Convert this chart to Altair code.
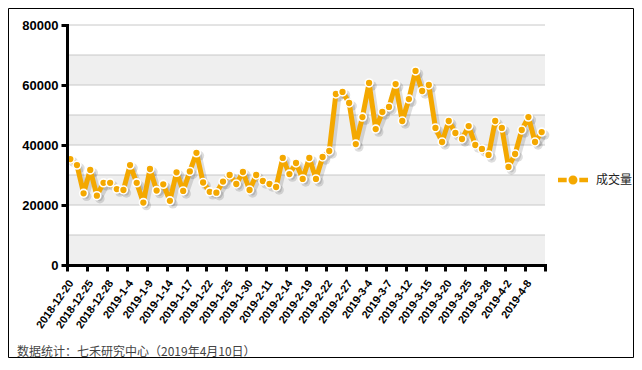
import altair as alt
import pandas as pd

# ---------------- data ----------------
dates = [
    "2018-12-20", "2018-12-21", "2018-12-24", "2018-12-25", "2018-12-26", "2018-12-27", "2018-12-28",
    "2019-1-2", "2019-1-3", "2019-1-4", "2019-1-7", "2019-1-8", "2019-1-9", "2019-1-10", "2019-1-11",
    "2019-1-14", "2019-1-15", "2019-1-16", "2019-1-17", "2019-1-18", "2019-1-21", "2019-1-22",
    "2019-1-23", "2019-1-24", "2019-1-25", "2019-1-28", "2019-1-29", "2019-1-30", "2019-1-31",
    "2019-2-1", "2019-2-11", "2019-2-12", "2019-2-13", "2019-2-14", "2019-2-15", "2019-2-18",
    "2019-2-19", "2019-2-20", "2019-2-21", "2019-2-22", "2019-2-25", "2019-2-26", "2019-2-27",
    "2019-2-28", "2019-3-1", "2019-3-4", "2019-3-5", "2019-3-6", "2019-3-7", "2019-3-8",
    "2019-3-11", "2019-3-12", "2019-3-13", "2019-3-14", "2019-3-15", "2019-3-18", "2019-3-19",
    "2019-3-20", "2019-3-21", "2019-3-22", "2019-3-25", "2019-3-26", "2019-3-27", "2019-3-28",
    "2019-3-29", "2019-4-1", "2019-4-2", "2019-4-3", "2019-4-4", "2019-4-8", "2019-4-9", "2019-4-10",
]
values = [
    35300, 33300, 23900, 31700, 23100, 27400, 27400, 25300, 25000, 33300,
    27400, 20800, 32000, 24800, 26900, 21400, 30900, 24700, 31200, 37400,
    27500, 24400, 24100, 27800, 30000, 27000, 31000, 25000, 30000, 28000,
    27000, 26000, 35700, 30300, 34000, 28700, 35700, 28700, 36000, 38000,
    57000, 57700, 54000, 40300, 49300, 60700, 45300, 51000, 52700, 60300,
    48000, 55300, 64700, 58000, 60000, 45700, 41000, 48000, 44000, 42000,
    46300, 40000, 38700, 36700, 48000, 45700, 32700, 37000, 45000, 49300,
    41000, 44300,
]
tick_labels = [
    "2018-12-20", "2018-12-25", "2018-12-28", "2019-1-4", "2019-1-9", "2019-1-14",
    "2019-1-17", "2019-1-22", "2019-1-25", "2019-1-30", "2019-2-11", "2019-2-14",
    "2019-2-19", "2019-2-22", "2019-2-27", "2019-3-4", "2019-3-7", "2019-3-12",
    "2019-3-15", "2019-3-20", "2019-3-25", "2019-3-28", "2019-4-2", "2019-4-8",
]
series_name = "成交量"
y_ticks = [0, 20000, 40000, 60000, 80000]
grid_values = [10000, 20000, 30000, 40000, 50000, 60000, 70000, 80000]
band_lo = [0, 20000, 40000, 60000]
band_hi = [10000, 30000, 50000, 70000]
footer_text = ["数据统计：七禾研究中心（2019年4月10日）"]

# ---------------- layout / style ----------------
W, H = 478, 240
PAD = {"left": 59, "top": 17, "right": 89, "bottom": 93}
ORANGE = "#F4A800"
N = len(values)
XDOM = [-0.5, N - 0.5]
YDOM = [0, 80000]

df = pd.DataFrame({"i": list(range(N)), "date": dates, "value": values, "series": series_name})
bands_df = pd.DataFrame({"lo": band_lo, "hi": band_hi})
grid_df = pd.DataFrame({"g": grid_values})
footer_df = pd.DataFrame({"t": footer_text})
one_df = pd.DataFrame({"a": [0]})

x_tick_values = [-0.5 + 3 * k for k in range(len(tick_labels) + 1)]
label_expr = "[" + ",".join("'%s'" % s for s in tick_labels) + "][round((datum.value + 0.5) / 3)] || ''"

xs = alt.Scale(domain=XDOM, nice=False, zero=False)
ys = alt.Scale(domain=YDOM, nice=False, zero=False)

x_axis = alt.Axis(
    values=x_tick_values, labelExpr=label_expr, title=None, grid=False,
    domainColor="black", domainWidth=3, domainCap="square",
    tickColor="black", tickWidth=3, tickSize=6,
    labelAngle=-55, labelAlign="right", labelBaseline="middle",
    labelFont="Liberation Sans", labelFontWeight="bold", labelFontSize=11,
    labelColor="black", labelPadding=10, labelOffset=4,
    labelOverlap=False, labelFlush=False, labelBound=False, zindex=3,
)
y_axis = alt.Axis(
    values=y_ticks, format="d", title=None, grid=False,
    domainColor="black", domainWidth=3, domainCap="square",
    tickColor="black", tickWidth=3, tickSize=6,
    labelFont="Liberation Sans", labelFontWeight="bold", labelFontSize=13,
    labelColor="black", labelPadding=3, zindex=3,
)

bands = alt.Chart(bands_df).mark_rect(color="#efefef").encode(
    x=alt.value(0), x2=alt.value(W),
    y=alt.Y("lo:Q", scale=ys, axis=None), y2="hi:Q",
)
grid = alt.Chart(grid_df).mark_rule(color="#c8c8c8", strokeWidth=1).encode(
    x=alt.value(0), x2=alt.value(W),
    y=alt.Y("g:Q", scale=ys, axis=None),
)

sx = alt.Scale(domain=XDOM, nice=False, zero=False, range=[3, W + 3])
sy = alt.Scale(domain=YDOM, nice=False, zero=False, range=[H + 3, 3])
shadow_line = alt.Chart(df).mark_line(
    color="#000000", opacity=0.13, strokeWidth=5, strokeJoin="round"
).encode(
    x=alt.X("i:Q", scale=sx, axis=None),
    y=alt.Y("value:Q", scale=sy, axis=None),
)
shadow_pts = alt.Chart(df).mark_circle(color="#000000", opacity=0.13, size=90).encode(
    x=alt.X("i:Q", scale=sx, axis=None),
    y=alt.Y("value:Q", scale=sy, axis=None),
)

line = alt.Chart(df).mark_line(color=ORANGE, strokeWidth=5, strokeJoin="round").encode(
    x=alt.X("i:Q", scale=xs, axis=x_axis),
    y=alt.Y("value:Q", scale=ys, axis=y_axis),
)

legend_path = ("M-1,-0.15H-0.42V0.15H-1Z M0.42,-0.15H1V0.15H0.42Z "
               "M0.3,0A0.3,0.3,0,1,1,-0.3,0A0.3,0.3,0,1,1,0.3,0Z")
points = alt.Chart(df).mark_point(
    filled=True, stroke="white", strokeWidth=1.6, size=62, opacity=1
).encode(
    x=alt.X("i:Q", scale=xs, axis=None),
    y=alt.Y("value:Q", scale=ys, axis=None),
    color=alt.Color(
        "series:N",
        scale=alt.Scale(domain=[series_name], range=[ORANGE]),
        legend=alt.Legend(
            title=None, orient="none", legendX=491, legendY=140,
            symbolType=legend_path, symbolSize=900, symbolStrokeWidth=0,
            symbolOpacity=1,
            labelFont="Noto Sans CJK SC", labelFontSize=12, labelColor="#222222",
            labelOffset=8,
        ),
    ),
    tooltip=["date:N", "value:Q"],
)

border = alt.Chart(one_df).mark_rect(fillOpacity=0, stroke="black", strokeWidth=1).encode(
    x=alt.value(-PAD["left"] + 0.5), x2=alt.value(W + PAD["right"] - 0.5),
    y=alt.value(-PAD["top"] + 0.5), y2=alt.value(H + PAD["bottom"] - 0.5),
)
footer = alt.Chart(footer_df).mark_text(
    align="left", baseline="middle", font="Noto Sans CJK SC", fontSize=12, color="#444444"
).encode(
    x=alt.value(-50), y=alt.value(327), text="t:N",
)

chart = alt.layer(
    bands, grid, shadow_line, shadow_pts, line, points, border, footer
).resolve_scale(
    x="independent", y="independent"
).properties(
    width=W, height=H, padding=PAD, autosize=alt.AutoSizeParams(type="none"),
).configure_view(stroke=None)

chart.save("out.html", embed_options={"renderer": "svg", "actions": False})
